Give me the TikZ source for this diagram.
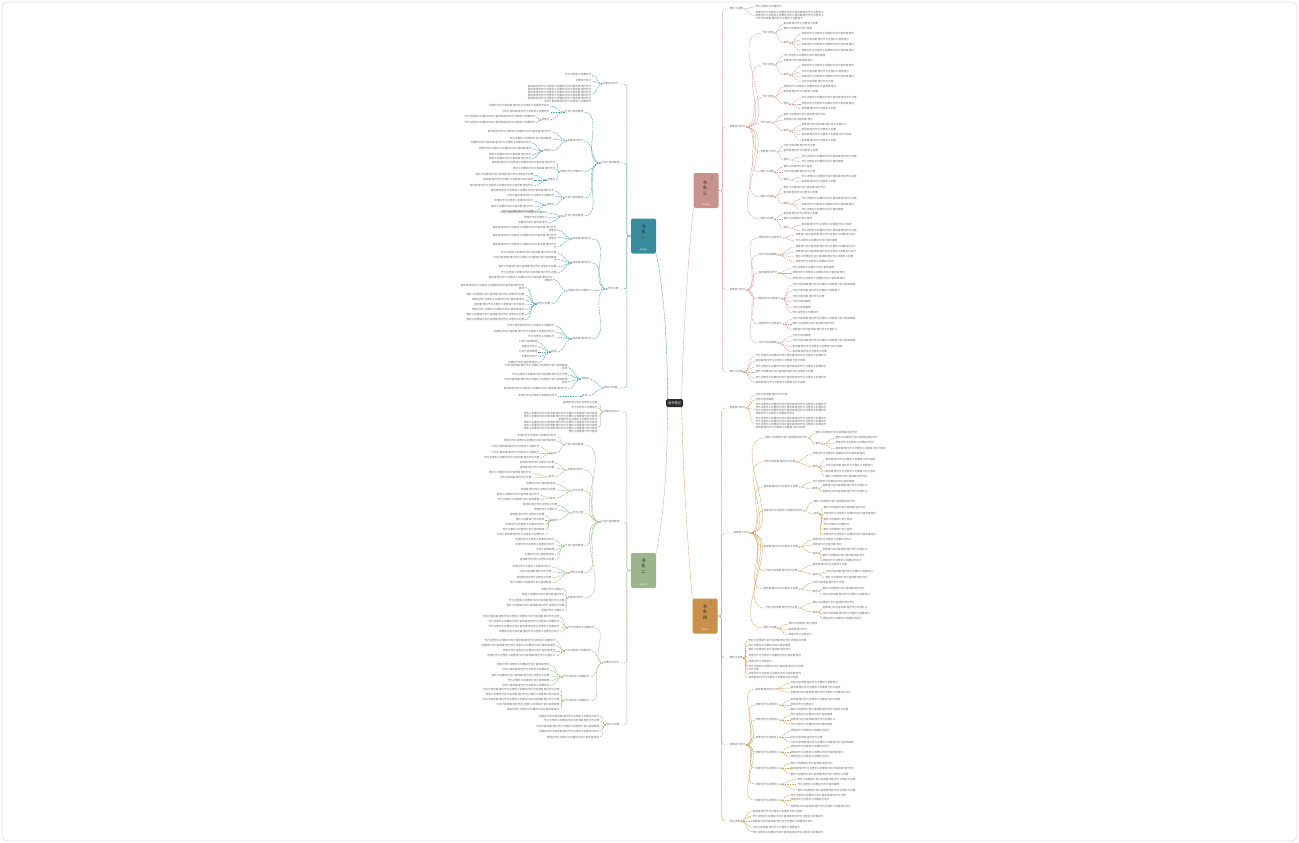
\documentclass[tikz,border=0pt]{standalone}
\usepackage{fontspec}
\newfontfamily\cjk{Noto Sans CJK SC}
\XeTeXlinebreaklocale "zh"
\definecolor{tlb}{HTML}{3A8C9C}\definecolor{tll}{HTML}{4A9AAA}
\definecolor{grb}{HTML}{9CB58C}\definecolor{grl}{HTML}{8DBA7C}
\definecolor{pkb}{HTML}{C8938A}\definecolor{pkl}{HTML}{D49A90}
\definecolor{ogb}{HTML}{C8904A}\definecolor{ogl}{HTML}{D09A50}
\definecolor{txg}{HTML}{6E6E6E}
\def\defc#1#2{\expandafter\def\csname cz#1\endcsname{#2}}
\defc{0}{工}\defc{1}{作}\defc{2}{项}\defc{3}{目}\defc{4}{管}\defc{5}{理}\defc{6}{计}\defc{7}{划}
\defc{8}{方}\defc{9}{案}\defc{10}{分}\defc{11}{析}\defc{12}{内}\defc{13}{容}\defc{14}{要}\defc{15}{点}
\defc{16}{ }\defc{17}{的}
\newcommand\TX[1]{\pgfmathtruncatemacro\nch{max(1,round((#1)/2.7))}\gdef\acc{}%
 \foreach \k in {1,...,\nch}{\pgfmathtruncatemacro\cc{mod(\k*7+\nch*3,18)}\ifnum\k=1 \ifnum\cc=16 \def\cc{2}\fi\fi\ifnum\k=\nch \ifnum\cc=16 \def\cc{5}\fi\fi\xdef\acc{\acc\csname cz\cc\endcsname}}\acc}
\newcommand\PX[3]{\TX{#1}\ifnum#2>1 \\\TX{#1}\fi\ifnum#2>2 \\\TX{#1}\fi\ifnum#2>3 \\\TX{#1}\fi\ifnum#2>4 \\\TX{#1}\fi\\\TX{#3}}
\def\brc{pkl}
\tikzset{
 conn/.style={draw=\brc, line width=0.45pt, dash pattern=on 1.6pt off 0.9pt},
 lf/.style={font=\cjk\fontsize{2.6}{3}\selectfont, text=txg, inner sep=0.4pt},
 bx/.style={rectangle, rounded corners=2pt, minimum width=25pt, minimum height=35pt, inner sep=0pt},
 bxt/.style={font=\cjk\fontsize{4.2}{5.6}\selectfont, text=black!85, align=center, inner sep=0},
 bxf/.style={font=\cjk\fontsize{1.8}{2}\selectfont, text=white, inner sep=0}
}
% right side
\newcommand\RS[5]{\node[lf,anchor=west] (#1) at (#3,#4) {\TX{#5}};\draw[conn,rounded corners=3pt] (#2.east) -- ++(4,0) |- (#1.west);}
\newcommand\RN[5]{\node[lf,anchor=west] (#1) at (#3,#4) {\TX{#5}};\draw[conn] (#2.east) to[out=0,in=180] (#1.west);}
\newcommand\RG[3]{\foreach \yy/\ww [count=\i] in {#3}{\node[lf,anchor=west] (#1-\i) at (#2,\yy) {\TX{\ww}};\draw[conn] (#1.east) to[out=0,in=180] (#1-\i.west);}}
\newcommand\RP[7]{\node[lf,align=left,anchor=west] (#1) at (#3,#4) {\PX{#5}{#6}{#7}};\draw[conn] (#2.east) to[out=0,in=180] (#1.west);}
% left side
\newcommand\LS[5]{\node[lf,anchor=east] (#1) at (#3,#4) {\TX{#5}};\draw[conn,rounded corners=3pt] (#2.west) -- ++(-4,0) |- (#1.east);}
\newcommand\LN[5]{\node[lf,anchor=east] (#1) at (#3,#4) {\TX{#5}};\draw[conn] (#2.west) to[out=180,in=0] (#1.east);}
\newcommand\LG[3]{\foreach \yy/\ww [count=\i] in {#3}{\node[lf,anchor=east] (#1-\i) at (#2,\yy) {\TX{\ww}};\draw[conn] (#1.west) to[out=180,in=0] (#1-\i.east);}}
\newcommand\LP[7]{\node[lf,align=right,anchor=east] (#1) at (#3,#4) {\PX{#5}{#6}{#7}};\draw[conn] (#2.west) to[out=180,in=0] (#1.east);}
\begin{document}
\begin{tikzpicture}[x=1pt,y=-1pt]
\useasboundingbox (0,0) rectangle (1299,843);
\fill[white] (0,0) rectangle (1299,843);
\draw[black!10, line width=0.8pt, rounded corners=6pt] (2,2) rectangle (1297,841);

% center
\node[fill=black!82, text=white, rounded corners=1.5pt, font=\cjk\fontsize{3.2}{4}\selectfont, minimum width=17pt, minimum height=8pt, inner sep=0.5pt] (ctr) at (674.5,403) {读书笔记};

% boxes
\node[bx,fill=tlb] (tb) at (643.5,236) {};
\node[bxt] (tbt) at (643.5,232) {书\\名\\一};
\node[bxf] (tbf) at (643.5,250) {阅读笔记};
\node[bx,fill=grb] (gb) at (643.5,570.5) {};
\node[bxt] (gbt) at (643.5,566) {书\\名\\二};
\node[bxf] (gbf) at (643.5,584.5) {阅读笔记};
\node[bx,fill=pkb] (pb) at (706,190.5) {};
\node[bxt] (pbt) at (705,188) {书\\名\\三};
\node[bxf] (pbf) at (706,205) {阅读笔记};
\node[font=\cjk\fontsize{1.8}{2}\selectfont, text=black!60, align=center, inner sep=0] (pbs) at (712,178) {作\\者};
\node[bx,fill=ogb] (ob) at (705,616) {};
\node[bxt] (obt) at (705,612) {书\\名\\四};
\node[bxf] (obf) at (705,630) {阅读笔记};
\node[font=\cjk\fontsize{1.8}{2}\selectfont, text=black!60, align=center, inner sep=0] (obs) at (711,603) {作\\者};

\draw[conn,draw=tll] ([xshift=1.5pt]ctr.north west) .. controls (668,330) and (661,275) .. (tb.south east);
\draw[conn,draw=grl] ([xshift=1.5pt]ctr.south west) .. controls (668,480) and (661,530) .. (gb.north east);
\draw[conn,draw=pkl] ([xshift=-1.5pt]ctr.north east) .. controls (683,330) and (689,250) .. (pb.south west);
\draw[conn,draw=ogl] ([xshift=-1.5pt]ctr.south east) .. controls (683,480) and (689,560) .. (ob.north west);

% ================= PINK =================
\def\brc{pkl}
\RS{p1}{pb}{729}{9}{14}
\RG{p1}{755}{7/28}
\RP{p1p}{p1}{755}{16}{72}{2}{50}
\RS{p2}{pb}{729}{127}{16}
\RN{p2a}{p2}{762}{33}{10}\RG{p2a}{783}{24/38,29/30}\RN{p2aa}{p2a}{783}{43}{6}\RG{p2aa}{801}{34/58,40/50,45/58,51/58}
\RN{p2b}{p2}{762}{65}{10}\RG{p2b}{783}{56/42,61/32}\RN{p2bb}{p2b}{783}{75}{6}\RG{p2bb}{801}{66/56,72/50,77/58,82/35}
\RN{p2c}{p2}{762}{97}{10}\RG{p2c}{783}{87/57,92/37}\RN{p2cc}{p2c}{783}{104}{6}\RG{p2cc}{801}{98/59,104/57,109/39}
\RN{p2d}{p2}{760}{123}{12}\RG{p2d}{783}{115/47,120/32}\RN{p2dd}{p2d}{783}{131}{5}\RG{p2dd}{801}{125/49,130/37,135/54,141/39}
\RN{p2e}{p2}{760}{152}{15}\RG{p2e}{783}{146/35,151/37}\RN{p2ee}{p2e}{783}{160}{6}\RG{p2ee}{801}{157/59,162/44}
\RN{p2f}{p2}{760}{172}{13}\RG{p2f}{783}{167/29,172/35}\RN{p2ff}{p2f}{783}{180}{6}\RG{p2ff}{801}{177/59,182/39}
\RN{p2g}{p2}{760}{197}{13}\RG{p2g}{783}{188/47,193/39}\RN{p2gg}{p2g}{783}{204}{6}\RG{p2gg}{801}{199/59,205/57,210/44}
\RN{p2h}{p2}{760}{219}{13}\RG{p2h}{783}{214/37,219/29}\RN{p2hh}{p2h}{783}{228}{6}\RG{p2hh}{801}{225/54,231/59}
\RS{p3}{pb}{729}{290}{15}
\RN{p3a}{p3}{758}{238}{24}\RG{p3a}{795}{235/65,241/43}
\RN{p3b}{p3}{758}{255}{20}\RG{p3b}{795}{247/65,252/65,257/62,262/40}
\RN{p3c}{p3}{758}{273}{22}\RG{p3c}{792}{268/43,273/58,279/58}
\RN{p3d}{p3}{757}{299}{24}\RG{p3d}{792}{285/68,291/51,297/36,302/18,308/20,313/28}
\RN{p3e}{p3}{758}{324}{24}\RG{p3e}{792}{319/68,324/46,330/48}
\RN{p3f}{p3}{758}{343}{20}\RG{p3f}{792}{336/20,341/68,347/53,352/38}
\RS{p4}{pb}{729}{372}{14}
\RG{p4}{755}{356/75,361/55,367/75,372/63,378/75,383/55}

% ================= ORANGE =================
\def\brc{ogl}
\RS{o1}{ob}{729}{408}{15}
\RG{o1}{755}{395/35,400/20}
\RP{o1a}{o1}{755}{409.5}{75}{3}{40}
\RP{o1b}{o1}{755}{423.5}{75}{3}{55}
\RS{o2}{ob}{733}{533}{17}
\RN{o2a}{o2}{765}{438}{45}\RG{o2a}{815}{433/45}\RN{o2aa}{o2a}{815}{444}{6}\RG{o2aa}{835}{438/45,443/40,449/55}
\RN{o2b}{o2}{763}{462}{34}\RG{o2b}{812}{454/58}\RN{o2bb}{o2b}{812}{467}{6}\RG{o2bb}{825}{460/53,466/50,472/55,477/45}
\RN{o2c}{o2}{763}{487}{37}\RG{o2c}{812}{482/43}\RN{o2cc}{o2c}{812}{489}{6}\RG{o2cc}{822}{486/48,492/48}
\RN{o2d}{o2}{763}{511}{40}\RG{o2d}{813}{502/47}\RN{o2dd}{o2d}{813}{514}{6}\RG{o2dd}{823}{508/47,514/57,520/29,525/27,530/29,535/57}
\RN{o2e}{o2}{763}{547}{37}\RG{o2e}{812}{540/40,545/33}\RN{o2ee}{o2e}{812}{553}{6}\RG{o2ee}{822}{550/48,556/45,561/40}
\RN{o2f}{o2}{765}{571}{35}\RG{o2f}{812}{565/38}\RN{o2ff}{o2f}{812}{574}{6}\RG{o2ff}{825}{572/50,578/45}
\RN{o2g}{o2}{763}{589}{37}\RG{o2g}{812}{583/36}\RN{o2gg}{o2g}{812}{591}{6}\RG{o2gg}{822}{589/45,595/50}
\RN{o2h}{o2}{765}{608}{35}\RG{o2h}{812}{603/46}\RN{o2hh}{o2h}{812}{612}{6}\RG{o2hh}{822}{608/48,614/50,619/40}
\RN{o2i}{o2}{763}{628}{13}\RG{o2i}{788}{624/30,630/22,635/25}
\RS{o3}{ob}{729}{658}{13}
\RG{o3}{748}{641/63,645.5/42,650/45,656/57,662/23,667/60,670/10,674/58,677.5/53}
\RS{o4}{ob}{729}{745}{15}
\RN{o4a}{o4}{755}{689}{22}\RG{o4a}{790}{683/50,688/53,692.5/65}
\RN{o4b}{o4}{755}{705}{25}\RG{o4b}{790}{700/53,705/25,710/63}
\RN{o4c}{o4}{755}{720}{23}\RG{o4c}{790}{715/42,720/48,725/43}
\RN{o4d}{o4}{755}{737}{25}\RG{o4d}{790}{731/40,737/35,742/68}
\RN{o4e}{o4}{755}{752}{25}\RG{o4e}{790}{747/40,752/58,757/40}
\RN{o4f}{o4}{755}{768}{25}\RG{o4f}{790}{763/45,768/70,774/62}
\RN{o4g}{o4}{755}{784}{25}\RG{o4g}{797}{779/63,784/43,790/63}
\RN{o4h}{o4}{755}{800}{25}\RG{o4h}{790}{795/60,800/40,806/65}
\RS{o5}{ob}{729}{821}{12}
\RG{o5}{752}{811/55,816/75,821/65,827/50,832/75}

% ================= TEAL =================
\def\brc{tll}
\LS{t1}{tb}{619}{84}{15}
\LG{t1}{592}{75/28,81/16}
\LP{t1p}{t1}{592}{94}{70}{5}{50}
\LS{t2}{tb}{620}{163}{20}
\LN{t2a}{t2}{584}{112}{18}\LG{t2a}{550}{106/64,112/50}\LN{t2aa}{t2a}{550}{120}{8}\LG{t2aa}{536}{117/76,123/75}
\LN{t2b}{t2}{584}{141}{16}\LG{t2b}{552}{132/70,139/42}\LN{t2bb}{t2b}{552}{151}{8}\LG{t2bb}{532}{143/65,149/57,155/45,159/45}
\LN{t2c}{t2}{584}{172}{24}\LG{t2c}{556}{163/70,169/47}\LN{t2cc}{t2c}{556}{180}{8}\LG{t2cc}{534}{175/62,180/55,186/70}
\LN{t2d}{t2}{584}{198}{20}\LG{t2d}{555}{191/70,196/50}\LN{t2dd}{t2d}{555}{205}{8}\LG{t2dd}{534}{201/40,207/47,212/35}
\LN{t2e}{t2}{584}{216}{20}\LG{t2e}{548}{213/50,218/25,223/32}
\LS{t3}{tb}{619}{289}{12}
\LN{t3a}{t3}{592}{239}{22}\LP{t3a1}{t3a}{557}{229.5}{70}{1}{8}\LP{t3a2}{t3a}{557}{237.5}{70}{1}{8}\LP{t3a3}{t3a}{557}{246.5}{70}{1}{3}
\LN{t3b}{t3}{592}{263}{22}\LG{t3b}{557}{253/60,267/62,273/60}\LP{t3b5}{t3b}{557}{259.5}{68}{1}{3}
\LN{t3c}{t3}{592}{291}{25}\LP{t3c1}{t3c}{553}{279.5}{70}{1}{8}\LN{t3cc}{t3c}{551}{304}{14}
\LP{t3cc0}{t3cc}{525}{287.5}{70}{1}{5}\LG{t3cc}{525}{295/61,300/57,305/55,310/58,315/61,320/61}
\LN{t3d}{t3}{592}{339}{22}\LG{t3d}{555}{326/52,332/65,337/28}\LN{t3dd}{t3d}{557}{352}{5}\LG{t3dd}{538}{342/18,347/17,352/18,357/15,363/33}
\LS{t4}{tb}{618}{388}{13}
\LN{t4a}{t4}{590}{379}{8}\LP{t4a1}{t4a}{568}{367.5}{68}{1}{5}\LG{t4a}{568}{375/60,389/70}\LP{t4a2}{t4a}{568}{381.5}{68}{1}{5}
\LN{t4b}{t4}{588}{396}{6}\LG{t4b}{558}{396/41}

% ================= GREEN =================
\def\brc{grl}
\LS{g1}{gb}{620}{412}{15}
\LG{g1}{598}{403/38,408/28}
\LP{g1a}{g1}{598}{416.5}{78}{2}{40}
\LP{g1b}{g1}{598}{427}{78}{3}{30}
\LS{g2}{gb}{620}{522}{20}
\LN{g2a}{g2}{584}{445}{20}\LG{g2a}{557}{436/40,441/56}\LN{g2aa}{g2a}{557}{453}{5}\LG{g2aa}{540}{447/51,453/52,458/59}
\LN{g2b}{g2}{584}{470}{16}\LG{g2b}{555}{463/37,468/37}\LN{g2bb}{g2b}{555}{477}{5}\LG{g2bb}{532}{473/45,478/35}
\LN{g2c}{g2}{584}{491}{12}\LG{g2c}{556}{484/33,490/37}\LN{g2cc}{g2c}{556}{498}{5}\LG{g2cc}{540}{495/47,500/44}
\LN{g2d}{g2}{584}{513}{12}\LG{g2d}{558}{505/39,510/25}\LN{g2dd}{g2d}{558}{520}{5}\LG{g2dd}{545}{515/37,520/30,525/40,530/42,535/50}
\LN{g2e}{g2}{584}{546}{18}\LG{g2e}{555}{540/40,545/40,550/20,555/33,560/38}
\LN{g2f}{g2}{584}{573}{14}\LG{g2f}{552}{567/40,572/35,578/37,583/43}
\LN{g2g}{g2}{584}{598}{16}\LG{g2g}{565}{590/25,595/47,601/60,606/63,611/23}
\LS{g3}{gb}{620}{663}{15}
\LN{g3a}{g3}{595}{628}{27}\LG{g3a}{560}{617/85,622/75,627/75,632/65}
\LN{g3b}{g3}{592}{651}{28}\LG{g3b}{556}{641/75,646/80,651/57,656/72}
\LN{g3c}{g3}{590}{677}{28}\LG{g3c}{550}{665/57,670/52,676/61,681/42,686/50}
\LN{g3d}{g3}{590}{701}{28}\LG{g3d}{560}{690/85,695/77,700/85,705/68,710/56}
\LS{g4}{gb}{620}{725}{13}
\LG{g4}{600}{716/65,721/60,726/68,731/66,737/58}
\end{tikzpicture}
\end{document}
